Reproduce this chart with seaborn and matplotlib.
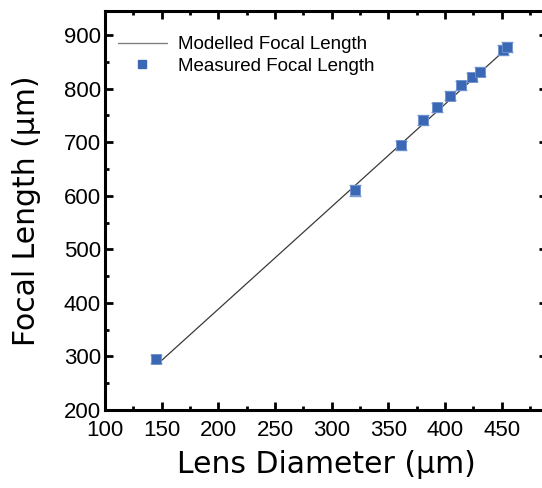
import numpy as np
import pandas as pd
import seaborn as sns
import matplotlib.pyplot as plt
from matplotlib.ticker import MultipleLocator
from matplotlib.lines import Line2D

# Measured lens data (diameter in µm, focal length in µm, error in µm)
lens_diameter = [145, 321, 361, 381, 393, 404, 414, 424, 431, 451, 455]
focal_length = [295, 610, 694, 741, 765, 787, 806, 822, 832, 872, 878]
focal_error = [8, 10, 8, 9, 8, 8, 8, 8, 8, 9, 9]

# Modelled focal length (linear model end points)
model_diameter = [146, 457]
model_focal = [285, 880]

measured = pd.DataFrame({"Lens Diameter": lens_diameter,
                         "Focal Length": focal_length,
                         "err": focal_error})
model = pd.DataFrame({"Lens Diameter": model_diameter,
                      "Focal Length": model_focal})

sns.set_theme(style="ticks")
plt.rcParams["font.family"] = ["Liberation Sans", "DejaVu Sans"]
plt.rcParams.update({"text.color": "black", "axes.labelcolor": "black",
                     "xtick.color": "black", "ytick.color": "black"})

fig = plt.figure(figsize=(5.42, 4.88), dpi=100)
ax = fig.add_axes([0.1937, 0.1598, 0.8155, 0.8177])

blue = "#3a68b4"
sns.lineplot(data=model, x="Lens Diameter", y="Focal Length", ax=ax,
             color="#3a3a3a", lw=0.9, zorder=2)
ax.errorbar(measured["Lens Diameter"], measured["Focal Length"],
            yerr=measured["err"], fmt="none", ecolor="#7d9dd3",
            elinewidth=1.0, capsize=4, capthick=1.0, zorder=3)
sns.scatterplot(data=measured, x="Lens Diameter", y="Focal Length", ax=ax,
                marker="s", s=48, color=blue, edgecolor="#6f93cf",
                linewidth=0.6, zorder=4)

ax.set_xlim(100, 490)
ax.set_ylim(200, 945)
ax.xaxis.set_major_locator(MultipleLocator(50))
ax.xaxis.set_minor_locator(MultipleLocator(25))
ax.yaxis.set_major_locator(MultipleLocator(100))
ax.yaxis.set_minor_locator(MultipleLocator(50))

ax.tick_params(which="both", direction="in", top=True, right=True,
               width=2.0, colors="black", labelsize=16)
ax.tick_params(axis="x", which="both", pad=7)
ax.tick_params(axis="y", which="both", pad=3)
ax.tick_params(which="major", length=5.5)
ax.tick_params(which="minor", length=3)
for sp in ax.spines.values():
    sp.set_linewidth(2.2)
    sp.set_color("black")

ax.set_xlabel("Lens Diameter (µm)", family="DejaVu Sans", fontsize=21.5,
              labelpad=7, color="black")
ax.set_ylabel("Focal Length (µm)", family="DejaVu Sans", fontsize=21.5,
              labelpad=16, color="black")

handles = [Line2D([], [], color="#808080", lw=1.0),
           Line2D([], [], marker="s", ls="none", color=blue, markersize=6)]
leg = ax.legend(handles, ["Modelled Focal Length", "Measured Focal Length"],
                loc="upper left", bbox_to_anchor=(0.0, 0.97), frameon=False,
                fontsize=13.5, handlelength=2.6, handletextpad=0.6,
                labelspacing=0.25, borderaxespad=0.3)
for t in leg.get_texts():
    t.set_color("black")

fig.savefig("out.png", dpi=100)
